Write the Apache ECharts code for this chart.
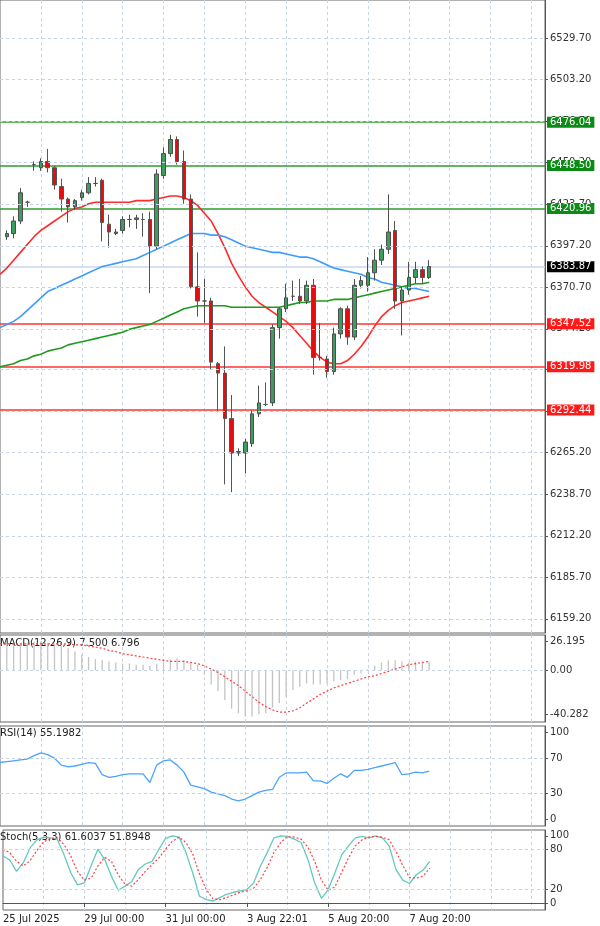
<!DOCTYPE html>
<html><head><meta charset="utf-8">
<script src="https://cdn.jsdelivr.net/npm/echarts@6/dist/echarts.min.js"></script>
<style>html,body{margin:0;padding:0;background:#fff}#c{width:600px;height:926px}</style>
</head><body><div id="c"></div>
<script>
const open  = [6403,6405,6413,6425,6449,6447,6451,6447,6435,6427,6422,6428,6431,6437,6439,6411,6405,6407,6414,6414,6414,6414,6397,6442,6456,6465,6451,6427,6371,6362,6362,6322,6316,6287,6265,6265,6271,6290,6296,6297,6345,6357,6365,6365,6362,6372,6326,6325,6317,6341,6357,6339,6372,6372,6380,6388,6395,6407,6362,6369,6377,6382,6377];
const close = [6405,6413,6431,6425,6449,6451,6447,6436,6427,6422,6426,6431,6437,6437,6412,6406,6406,6414,6414,6415,6414,6397,6443,6456,6465,6451,6427,6371,6362,6362,6323,6316,6287,6265,6266,6272,6290,6297,6296,6345,6357,6364,6365,6362,6372,6326,6326,6317,6341,6357,6339,6372,6375,6380,6388,6395,6406,6362,6369,6377,6382,6377,6384];
const low   = [6401,6402,6411,6422,6445,6445,6444,6433,6419,6412,6420,6426,6430,6435,6400,6396,6404,6405,6409,6408,6403,6367,6395,6440,6454,6449,6424,6370,6352,6348,6318,6291,6245,6240,6263,6252,6269,6288,6295,6295,6338,6355,6362,6360,6360,6315,6324,6313,6315,6338,6334,6337,6370,6368,6375,6385,6392,6357,6340,6366,6373,6373,6376];
const high  = [6407,6416,6434,6426,6451,6453,6459,6448,6440,6428,6427,6433,6441,6441,6440,6417,6408,6416,6417,6417,6418,6419,6446,6460,6468,6467,6458,6430,6393,6376,6364,6323,6333,6302,6268,6274,6292,6308,6310,6347,6358,6373,6375,6376,6375,6376,6348,6327,6345,6358,6359,6376,6378,6390,6395,6398,6430,6413,6371,6387,6387,6384,6388];
// indicator arrays start one slot earlier (left edge of the chart)
const maFast = [6379,6383,6388,6393,6398,6403,6407,6410,6413,6416,6419,6421,6422,6424,6425,6425,6425,6425,6425,6425,6426,6426,6426,6427,6428,6429,6429,6428,6426,6423,6418,6413,6405,6396,6386,6378,6371,6365,6361,6358,6355,6352,6349,6345,6340,6335,6330,6326,6323,6322,6322,6324,6328,6333,6339,6346,6352,6356,6359,6361,6362,6363,6364,6365];
const maMid = [6345,6347,6349,6352,6356,6360,6364,6368,6370,6372,6374,6376,6378,6380,6382,6384,6385,6386,6387,6388,6389,6391,6393,6395,6397,6399,6401,6403,6405,6405,6405,6404,6404,6403,6401,6399,6397,6396,6395,6394,6393,6393,6392,6391,6390,6390,6389,6387,6385,6383,6382,6381,6380,6379,6377,6376,6374,6373,6372,6371,6370,6370,6369,6368];
const maSlow = [6320,6321,6322,6324,6325,6327,6328,6330,6331,6332,6334,6335,6336,6337,6338,6339,6340,6341,6342,6344,6345,6346,6347,6349,6351,6353,6355,6357,6358,6359,6359,6359,6359,6359,6358,6358,6358,6358,6358,6358,6358,6358,6359,6360,6361,6361,6362,6362,6362,6363,6363,6363,6364,6365,6366,6367,6368,6369,6370,6371,6372,6373,6373,6374];
const macdHist = [24,24,24,25,25,26,26,25,24,22,20,17,14,12,10,9,8,7,6,6,5,5,4,6,8,10,11,9,7,5,-4,-13,-19,-27,-35,-39,-42,-42,-40,-39,-34,-30,-24,-18,-15,-12,-13,-13,-12,-10,-9,-8,-4,-3,1,4,7,9,9,8,7,8,8,8];
const macdSignal = [24,24,24,24,24,24,24,24,24,24,24,23,23,22,21,20,18,17,15,14,13,12,11,10,9,8,8,8,7,6,4,1,-2,-6,-10,-14,-19,-24,-29,-33,-36,-38,-38,-37,-34,-30,-26,-22,-19,-16,-14,-12,-10,-8,-6,-5,-3,-1,1,3,5,6,7,8];
const rsi = [65,66,67,68,69,73,76,74,70,62,60,61,63,65,64,51,48,49,51,52,52,52,42,62,67,68,62,54,39,37,35,31,29,27,23,21,23,27,31,33,34,48,53,53,53,54,44,44,41,47,52,48,56,56,57,59,61,63,65,51,52,54,53,55];
const stochK = [70,64,47,60,82,94,98,97,95,72,45,27,30,55,80,65,40,19,25,32,50,58,62,80,96,100,98,75,45,10,5,3,8,13,16,18,20,30,55,75,97,100,99,95,90,65,30,7,20,45,72,85,97,99,97,100,97,85,50,34,29,42,49,62];
const stochD = [80,75,62,55,63,78,91,96,97,87,70,47,34,37,55,68,62,42,28,25,35,47,57,67,80,92,98,90,73,43,20,6,5,8,12,16,18,22,35,53,75,90,99,98,95,83,62,34,19,24,46,67,85,94,98,99,98,94,77,56,38,37,40,52];
const priceTicks = [6159.2,6185.7,6212.2,6238.7,6265.2,6291.7,6318.2,6344.2,6370.7,6397.2,6423.7,6450.2,6476.7,6503.2,6529.7,6556.2];
const greenLevels = [6476.04,6448.50,6420.96];
const redLevels = [6347.52,6319.98,6292.44];
const lastPrice = 6383.87;
const macdTicks = [26.195,0,-40.282];
const rsiTicks = [100,70,30,0];
const stochTicks = [100,80,20,0];
const dateLabelIdx = [0,12,24,36,48,60];
const dateLabels = ['25 Jul 2025','29 Jul 00:00','31 Jul 00:00','3 Aug 22:01','5 Aug 20:00','7 Aug 20:00'];

const N = 81;
const cats = [];
for (let i=0;i<N;i++){const k=dateLabelIdx.indexOf(i);cats.push(k>=0?dateLabels[k]:'c'+i);}
const candles = [['-','-','-','-']].concat(open.map((o,i)=>[o,close[i],low[i],high[i]]));
const GRID='#c8d3e3', AX='#555', FONT='DejaVu Sans';
const dash = (vals,col)=>({symbol:'none',silent:true,label:{show:false},lineStyle:{color:col||GRID,type:[3,3],width:1},data:vals.map(v=>({yAxis:v}))});
const lvl = (v,bg,col)=>({yAxis:v,lineStyle:{color:col,width:1.6,type:'solid'},label:{show:true,position:'end',formatter:v.toFixed(2),backgroundColor:bg,color:'#fff',padding:[1,3,0,3],fontSize:10,fontFamily:FONT,distance:2}});

const grids=[{left:-3,right:55,top:-1,height:634},{left:-3,right:55,top:635,height:87},{left:-3,right:55,top:726,height:100},{left:-3,right:55,top:830,height:80}];
const xAxes=grids.map((g,gi)=>({type:'category',gridIndex:gi,data:cats,boundaryGap:false,
  axisLine:{show:gi===3,lineStyle:{color:AX}},
  axisTick:{show:gi===3,interval:(i)=>dateLabelIdx.indexOf(i)>0,length:4,lineStyle:{color:AX}},
  axisLabel:{show:gi===3,interval:(i)=>dateLabelIdx.indexOf(i)>=0,align:'left',margin:4,fontSize:10,fontFamily:FONT,color:'#222'},
  splitLine:{show:true,interval:(i)=>i>0&&i%6===0,lineStyle:{color:GRID,type:[3,3]}}}));
const yA=(gi,min,max,ticks,fmt)=>({type:'value',gridIndex:gi,position:'right',min,max,scale:true,
  axisLine:{show:true,lineStyle:{color:AX}},splitLine:{show:false},
  axisTick:{show:true,customValues:ticks,length:3,lineStyle:{color:AX}},
  axisLabel:{customValues:ticks,formatter:fmt,fontSize:10,fontFamily:FONT,color:'#333',margin:5}});

const option={animation:false,backgroundColor:'#fff',
 grid:grids.map(g=>Object.assign({show:true,borderColor:'#666',borderWidth:1},g)),
 xAxis:xAxes,
 yAxis:[yA(0,6150.2,6554,priceTicks,v=>v.toFixed(2)),yA(1,-47,32,macdTicks,v=>v===0?'0.00':v.toFixed(3)),yA(2,-8,107,rsiTicks,v=>String(v)),yA(3,-10.4,108.6,stochTicks,v=>String(v))],
 graphic:[
  {type:'text',left:0,top:638,style:{text:'MACD(12,26,9) 7.500 6.796',font:'10px "DejaVu Sans"',fill:'#222'}},
  {type:'text',left:0,top:728,style:{text:'RSI(14) 55.1982',font:'10px "DejaVu Sans"',fill:'#222'}},
  {type:'text',left:0,top:832,style:{text:'Stoch(5,3,3) 61.6037 51.8948',font:'10px "DejaVu Sans"',fill:'#222'}}],
 series:[
  {type:'line',xAxisIndex:0,yAxisIndex:0,data:[],symbol:'none',markLine:dash(priceTicks)},
  {type:'line',xAxisIndex:0,yAxisIndex:0,data:maFast,symbol:'none',lineStyle:{color:'#ff2a2a',width:1.6},z:3},
  {type:'line',xAxisIndex:0,yAxisIndex:0,data:maMid,symbol:'none',lineStyle:{color:'#3d9bff',width:1.6},z:3},
  {type:'line',xAxisIndex:0,yAxisIndex:0,data:maSlow,symbol:'none',lineStyle:{color:'#1f9a1f',width:1.6},z:3},
  {type:'candlestick',xAxisIndex:0,yAxisIndex:0,data:candles,barWidth:4,z:4,
   itemStyle:{color:'#3c9d5d',color0:'#e50d0d',borderColor:'#4d4d4d',borderColor0:'#555',borderWidth:1},
   markLine:{symbol:'none',silent:true,z:2,data:[
     {yAxis:lastPrice,lineStyle:{color:'#c9d9ee',width:1.5,type:'solid'},label:{show:true,position:'end',formatter:lastPrice.toFixed(2),backgroundColor:'#000',color:'#fff',padding:[1,3,0,3],fontSize:10,fontFamily:FONT,distance:2}},
     ...greenLevels.map(v=>lvl(v,'#0c8a16','#2e9e2e')),
     ...redLevels.map(v=>lvl(v,'#ff1a1a','#ff3333'))]}},
  {type:'bar',xAxisIndex:1,yAxisIndex:1,data:macdHist,barWidth:1.3,itemStyle:{color:'#c4c4c4'},
   markLine:dash([0])},
  {type:'line',xAxisIndex:1,yAxisIndex:1,data:macdSignal,symbol:'none',lineStyle:{color:'#ff4040',width:1.2,type:[2,2]}},
  {type:'line',xAxisIndex:2,yAxisIndex:2,data:rsi,symbol:'none',lineStyle:{color:'#4aa3ff',width:1.3},markLine:dash([70,30])},
  {type:'line',xAxisIndex:3,yAxisIndex:3,data:stochK,symbol:'none',lineStyle:{color:'#63c9bd',width:1.3},markLine:dash([80,20])},
  {type:'line',xAxisIndex:3,yAxisIndex:3,data:stochD,symbol:'none',lineStyle:{color:'#ff4040',width:1.2,type:[2,2]}}
 ]};
const ch=echarts.init(document.getElementById('c'),null,{renderer:'canvas'});
ch.setOption(option);
</script></body></html>
